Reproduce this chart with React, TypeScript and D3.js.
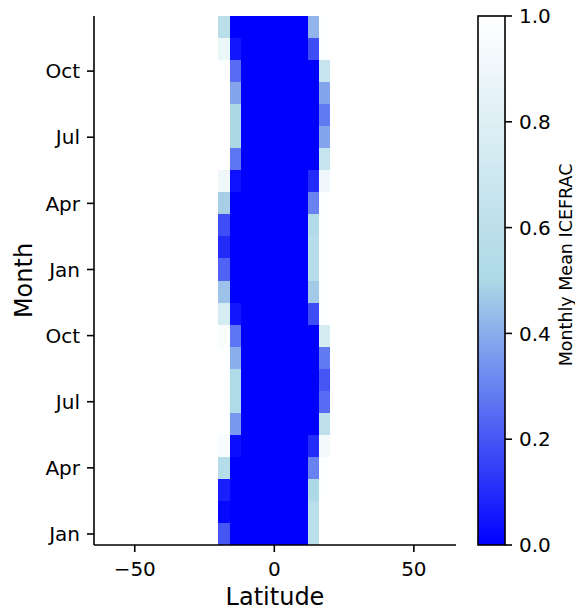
import React from "react";
import * as d3 from "d3";

// Latitude cell centers (degrees), cells are 4° wide
const latCenters = [-18, -14, -10, -6, -2, 2, 6, 10, 14, 18];
// 24 months (two years), bottom to top
const monthLabels = ["Jan","Feb","Mar","Apr","May","Jun","Jul","Aug","Sep","Oct","Nov","Dec",
  "Jan","Feb","Mar","Apr","May","Jun","Jul","Aug","Sep","Oct","Nov","Dec"];
const yTickIdx = [0, 3, 6, 9, 12, 15, 18, 21];
const xTicks = [-50, 0, 50];
const cbTicks = [0, 0.2, 0.4, 0.6, 0.8, 1.0];

// Monthly mean ICEFRAC, one row per month, columns follow latCenters
const iceFrac: number[][] = [
  [0.20, 0.00, 0, 0, 0, 0, 0, 0, 0.58, 1.00],
  [0.02, 0.00, 0, 0, 0, 0, 0, 0, 0.58, 1.00],
  [0.07, 0.00, 0, 0, 0, 0, 0, 0, 0.50, 0.99],
  [0.55, 0.00, 0, 0, 0, 0, 0, 0, 0.30, 0.99],
  [0.95, 0.03, 0, 0, 0, 0, 0, 0, 0.10, 0.93],
  [0.99, 0.35, 0, 0, 0, 0, 0, 0, 0.00, 0.60],
  [0.99, 0.52, 0, 0, 0, 0, 0, 0, 0.00, 0.25],
  [0.99, 0.52, 0, 0, 0, 0, 0, 0, 0.00, 0.20],
  [0.99, 0.40, 0, 0, 0, 0, 0, 0, 0.00, 0.28],
  [0.97, 0.27, 0, 0, 0, 0, 0, 0, 0.00, 0.75],
  [0.75, 0.05, 0, 0, 0, 0, 0, 0, 0.18, 0.99],
  [0.45, 0.00, 0, 0, 0, 0, 0, 0, 0.47, 0.99],
  [0.23, 0.00, 0, 0, 0, 0, 0, 0, 0.57, 0.99],
  [0.10, 0.00, 0, 0, 0, 0, 0, 0, 0.57, 0.99],
  [0.18, 0.00, 0, 0, 0, 0, 0, 0, 0.53, 0.99],
  [0.48, 0.00, 0, 0, 0, 0, 0, 0, 0.30, 0.99],
  [0.90, 0.04, 0, 0, 0, 0, 0, 0, 0.10, 0.90],
  [1.00, 0.27, 0, 0, 0, 0, 0, 0, 0.00, 0.65],
  [1.00, 0.50, 0, 0, 0, 0, 0, 0, 0.00, 0.38],
  [1.00, 0.50, 0, 0, 0, 0, 0, 0, 0.00, 0.28],
  [1.00, 0.38, 0, 0, 0, 0, 0, 0, 0.00, 0.38],
  [0.99, 0.25, 0, 0, 0, 0, 0, 0, 0.00, 0.66],
  [0.88, 0.05, 0, 0, 0, 0, 0, 0, 0.18, 0.99],
  [0.58, 0.00, 0, 0, 0, 0, 0, 0, 0.42, 0.99],
];

const W = 575, H = 610;
const FONT = "DejaVu Sans, sans-serif";

export default function App() {
  const left = 94, right = 456, top = 16, bottom = 545;
  const x = d3.scaleLinear().domain([-64.6, 65.1]).range([left, right]);
  const y = d3.scaleLinear().domain([0, monthLabels.length]).range([bottom, top]);
  const color = d3.scaleLinear<string>().domain([0, 0.5, 1]).range(["#0000ff", "#add8e6", "#ffffff"]).interpolate(d3.interpolateRgb);
  const cbX0 = 478, cbX1 = 505;
  const cbY = d3.scaleLinear().domain([0, 1]).range([bottom, top]);
  const halfW = 2;
  const stops = d3.range(0, 1.0001, 0.05);

  return (
    <svg width={W} height={H} style={{ position: "absolute", left: 0, top: 0, background: "white" }} fontFamily={FONT}>
      <defs>
        <linearGradient id="cbgrad" x1="0" y1="1" x2="0" y2="0">
          {stops.map((s) => (
            <stop key={s} offset={s} stopColor={color(s)} />
          ))}
        </linearGradient>
      </defs>
      {/* heatmap cells */}
      <g shapeRendering="crispEdges">
        {iceFrac.map((row, i) =>
          row.map((v, j) => {
            const x0 = Math.round(x(latCenters[j] - halfW)), x1 = Math.round(x(latCenters[j] + halfW));
            const y0 = Math.round(y(i + 1)), y1 = Math.round(y(i));
            return (
              <rect key={`${i}-${j}`} x={x0} y={y0} width={x1 - x0} height={y1 - y0} fill={color(v)} />
            );
          })
        )}
      </g>
      {/* spines */}
      <line x1={left} x2={left} y1={top} y2={bottom} stroke="black" strokeWidth={1.6} />
      <line x1={left} x2={right} y1={bottom} y2={bottom} stroke="black" strokeWidth={1.6} />
      {/* x ticks */}
      {xTicks.map((t) => (
        <g key={t}>
          <line x1={x(t)} x2={x(t)} y1={bottom} y2={bottom + 7} stroke="black" strokeWidth={1.6} />
          <text x={x(t)} y={576} textAnchor="middle" fontSize={20} fill="black">
            {t < 0 ? `\u2212${Math.abs(t)}` : `${t}`}
          </text>
        </g>
      ))}
      {/* y ticks */}
      {yTickIdx.map((i) => (
        <g key={i}>
          <line x1={left - 7} x2={left} y1={y(i + 0.5)} y2={y(i + 0.5)} stroke="black" strokeWidth={1.6} />
          <text x={left - 14} y={y(i + 0.5)} dy="0.36em" textAnchor="end" fontSize={20} fill="black">
            {monthLabels[i]}
          </text>
        </g>
      ))}
      <text x={(left + right) / 2} y={605} textAnchor="middle" fontSize={24} fill="black">Latitude</text>
      <text transform={`translate(32, ${(top + bottom) / 2}) rotate(-90)`} textAnchor="middle" fontSize={24} fill="black">Month</text>
      {/* colorbar */}
      <rect x={cbX0} y={top} width={cbX1 - cbX0} height={bottom - top} fill="url(#cbgrad)" stroke="black" strokeWidth={1.6} />
      {cbTicks.map((t) => (
        <g key={t}>
          <line x1={cbX1} x2={cbX1 + 7} y1={cbY(t)} y2={cbY(t)} stroke="black" strokeWidth={1.6} />
          <text x={cbX1 + 14} y={cbY(t)} dy="0.36em" fontSize={20} fill="black">{t.toFixed(1)}</text>
        </g>
      ))}
      <text transform={`translate(572, 265) rotate(-90)`} textAnchor="middle" fontSize={17.5} fill="black">Monthly Mean ICEFRAC</text>
    </svg>
  );
}
